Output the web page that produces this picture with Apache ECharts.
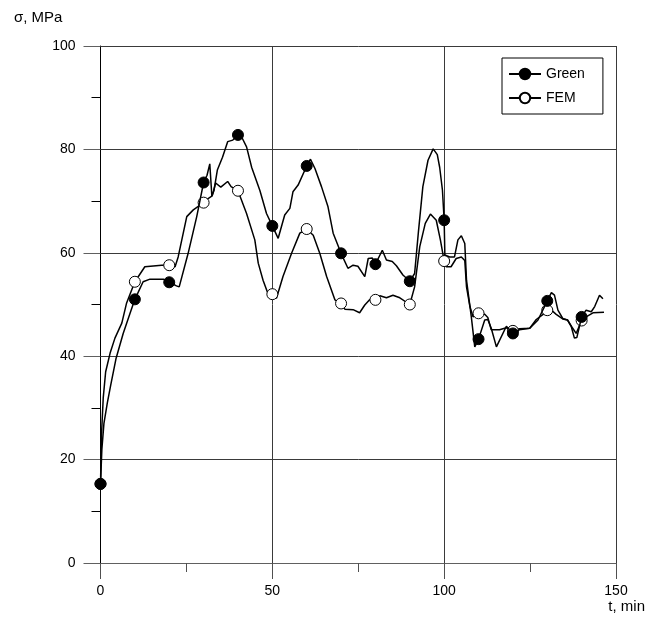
<!DOCTYPE html>
<html><head><meta charset="utf-8">
<script src="https://cdn.jsdelivr.net/npm/echarts@6/dist/echarts.min.js"></script>
<style>html,body{margin:0;padding:0;background:#fff}#c{width:646px;height:628px}</style>
</head><body><div id="c"></div><script>
// t, min
const greenT = [0,0.4,1,2,3,4.5,6.6,8.6,10,12.4,14.4,18.3,20,22.1,22.9,25.5,28,30,31,31.8,32.4,33,34,35.5,37,38.5,40,41,42.5,44,46.4,48.3,50,51.7,53.6,55.1,56,57.5,60,61.1,62.4,64.3,66.2,67.7,70,72,73.5,74.9,76.9,77.9,79.1,80,82,83.2,84.9,86.1,88,90,91.4,92.5,93.8,95.3,96.8,98,98.7,99.5,100,100.2,101.6,103,104,105,106,106.5,107.9,108.9,110,111.8,112.7,113.7,115.2,118.1,120,121.9,124.9,127.3,130,131.2,132.1,133.1,134.5,135.9,137,137.9,138.6,140,141.3,142.8,143.8,145.2,146.2];
// sigma, MPa
const greenSigma = [15.3,22,27,31,34.5,39.5,44.4,48.3,51,54.4,54.9,54.9,54.3,53.6,53.4,59.9,67,73.6,75,77.2,71,72,76,78.5,81.5,81.8,82.8,82.5,80.5,76.5,72,67.6,65.2,62.8,67.3,68.6,71.8,73.1,76.8,78.1,76.3,72.8,68.9,63.8,59.9,57,57.6,57.4,55.4,58.9,59,57.8,60.5,58.6,58.3,57.5,55.7,54.5,56,64,72.8,77.9,80.1,79,76.5,72.1,66.3,59.6,59.2,59.2,62.5,63.3,61.8,54.7,47.6,41.8,43.3,47,47.1,45.4,41.8,45.8,44.4,45.1,45.4,47,50.7,52.3,51.8,48.9,47.3,47,45.7,43.5,43.6,47.6,48.9,48.6,49.6,51.8,51.1];
const femT = [0,0.3,0.8,1.5,2.8,4.2,6.2,7.6,10,12.9,17.8,20,21.7,22.6,25.1,27,30,31.3,32.5,33.5,35,37,38,40,42.5,44.9,45.9,47.3,48.5,50,51.2,53.1,55.6,58,60,61.9,63.8,65.8,68.2,70,71.1,73.5,75.4,75.9,76.9,78.3,80,81.3,83.2,85.1,87.1,90,91.4,92.9,94.5,96,97.7,98.9,100,100.6,102,103.5,105,106,106.5,107.5,108.4,110,111.8,112.7,113.7,116.1,118.1,120,121.9,124.9,126.8,129,130,131.2,132.6,134.5,135.9,137.4,138.4,140,141.3,143.3,146.5];
const femSigma = [15.3,25,32,37,40.6,43.5,46.4,50.3,54.4,57.3,57.6,57.6,57.3,59.2,67,68.3,69.7,70.5,71,73.5,72.7,73.8,72.8,72,67.6,62.5,58,54.7,52.5,52,51.2,55.4,59.9,63.8,64.6,63.4,59.9,55.4,50.9,50.2,49.1,49,48.4,48.2,49.9,50.9,50.9,51.7,51.3,51.8,51.3,50,53.4,61.2,65.7,67.5,66.3,62.5,58.4,57.3,57.3,58.9,59.2,58.5,53.4,49.6,47.6,48.3,48.1,47.5,45.1,45.1,45.5,44.9,45.3,45.4,47.1,48.2,48.9,48.9,48.1,47.2,47,45.4,44.4,46.9,47.6,48.4,48.5];
const markerT = [0,10,20,30,40,50,60,70,80,90,100,110,120,130,140];
const xTicks = [0,50,100,150];
const yTicks = [0,20,40,60,80,100];

function build(ts, ss){
  return ts.map((t,i)=> markerT.includes(t) ? {value:[t,ss[i]]} : {value:[t,ss[i]], symbol:'none'});
}
const FONT = 'Liberation Sans, Arial, sans-serif';
const GRID = '#3a3a3a';
const chart = echarts.init(document.getElementById('c'), null, {renderer:'canvas'});
chart.setOption({
  animation:false,
  backgroundColor:'#fff',
  grid:{left:100.5, right:30, top:46, bottom:65, containLabel:false},
  xAxis:{type:'value', min:xTicks[0], max:xTicks[xTicks.length-1], interval:50,
    axisLine:{show:true, onZero:false, lineStyle:{color:'#606060', width:1}},
    axisTick:{show:true, inside:false, length:16, lineStyle:{color:'#505050'}},
    minorTick:{show:true, splitNumber:2, length:9, lineStyle:{color:'#505050'}},
    splitLine:{show:true, lineStyle:{color:GRID, width:1}},
    axisLabel:{margin:21, color:'#000', fontSize:14, fontFamily:FONT}
  },
  yAxis:{type:'value', min:yTicks[0], max:yTicks[yTicks.length-1], interval:20,
    axisLine:{show:true, onZero:false, lineStyle:{color:'#000', width:1}},
    axisTick:{show:true, inside:false, length:17, lineStyle:{color:'#606060'}},
    minorTick:{show:true, splitNumber:2, length:9, lineStyle:{color:'#000'}},
    splitLine:{show:true, lineStyle:{color:GRID, width:1}},
    axisLabel:{margin:25, color:'#000', fontSize:14, fontFamily:FONT}
  },
  legend:{orient:'vertical', left:502, top:58, padding:[9,18,9,6], itemGap:10,
    itemWidth:32, itemHeight:13, borderColor:'#000', borderWidth:1, backgroundColor:'#fff',
    textStyle:{fontSize:14, fontFamily:FONT, color:'#000'},
    data:['Green','FEM']},
  graphic:[
    {type:'text', left:14, top:10, style:{text:'σ, MPa', fontSize:15, fontFamily:FONT, fill:'#000'}},
    {type:'text', right:1, top:599, style:{text:'t, min', fontSize:15, fontFamily:FONT, fill:'#000'}}
  ],
  series:[
    {name:'Green', type:'line', data:build(greenT, greenSigma), symbol:'circle', symbolSize:11, showSymbol:true,
      lineStyle:{color:'#000', width:1.5}, itemStyle:{color:'#000', borderColor:'#000', borderWidth:1}, z:3},
    {name:'FEM', type:'line', data:build(femT, femSigma), symbol:'circle', symbolSize:11, showSymbol:true,
      lineStyle:{color:'#000', width:1.5}, itemStyle:{color:'#fff', borderColor:'#000', borderWidth:1}, z:2}
  ]
});
</script></body></html>
